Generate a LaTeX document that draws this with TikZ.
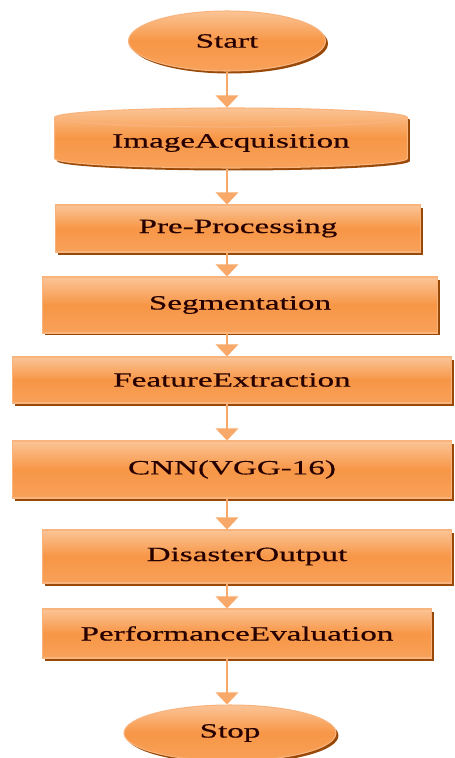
\documentclass[tikz,border=0pt]{standalone}
\usepackage{fontspec}
\setmainfont{Liberation Serif}[FakeStretch=1.64, FakeBold=0.5]
\usepackage{tikz}
\usetikzlibrary{shapes.geometric, arrows.meta, shadows}
\definecolor{boxmain}{RGB}{247,150,70}
\definecolor{boxlight}{RGB}{251,196,150}
\definecolor{boxedge}{RGB}{249,180,125}
\definecolor{shadowbrown}{RGB}{152,72,7}
\definecolor{flowline}{RGB}{248,168,104}
\tikzstyle{orangefill} = [draw=boxedge, line width=0.6pt, top color=boxlight, bottom color=boxmain!75!boxlight, middle color=boxmain,
                          drop shadow={shadow xshift=0.05cm, shadow yshift=-0.05cm, fill=shadowbrown, opacity=1},
                          font=\fontsize{11.5}{13}\selectfont, text=black!85!red, inner sep=0pt]
\tikzstyle{startstop} = [ellipse, orangefill]
\tikzstyle{process} = [rectangle, orangefill]
\tikzstyle{datain} = [cylinder, shape border rotate=90, aspect=0.08, orangefill]
\tikzstyle{arrow} = [line width=1.7pt, draw=flowline, -{Triangle[width=0.44cm, length=0.24cm, fill=flowline]}]

\begin{document}
\begin{tikzpicture}[x=0.02cm, y=-0.02cm]
  \useasboundingbox[fill=white] (0,0) rectangle (454,758);
  % stages, top to bottom
  \node (start) at (227,41)    [startstop, minimum width=3.94cm, minimum height=1.2cm] {Start};
  \node (acq)   at (231,143)   [datain, minimum width=7.06cm, minimum height=1.2cm] {ImageAcquisition};
  \node (pre)   at (238,228.5) [process, minimum width=7.32cm, minimum height=0.94cm] {Pre-Processing};
  \node (seg)   at (240,305)   [process, minimum width=7.92cm, minimum height=1.12cm] {Segmentation};
  \node (feat)  at (232,380)   [process, minimum width=8.8cm, minimum height=0.92cm] {FeatureExtraction};
  \node (cnn)   at (232,469.5) [process, minimum width=8.8cm, minimum height=1.14cm] {CNN(VGG-16)};
  \node (out)   at (247,556.5) [process, minimum width=8.2cm, minimum height=1.06cm] {DisasterOutput};
  \node (perf)  at (237,633.5) [process, minimum width=7.8cm, minimum height=0.98cm] {PerformanceEvaluation};
  \node (stop)  at (230,733)   [startstop, minimum width=4.24cm, minimum height=1.12cm] {Stop};
  % flow arrows, all on one vertical line
  \draw[arrow] (start.south) -- (start.south |- acq.north);
  \draw[arrow] (start.south |- acq.south) -- (start.south |- pre.north);
  \draw[arrow] (start.south |- pre.south) -- (start.south |- seg.north);
  \draw[arrow] (start.south |- seg.south) -- (start.south |- feat.north);
  \draw[arrow] (start.south |- feat.south) -- (start.south |- cnn.north);
  \draw[arrow] (start.south |- cnn.south) -- (start.south |- out.north);
  \draw[arrow] (start.south |- out.south) -- (start.south |- perf.north);
  \draw[arrow] (start.south |- perf.south) -- (start.south |- stop.north);
\end{tikzpicture}
\end{document}
